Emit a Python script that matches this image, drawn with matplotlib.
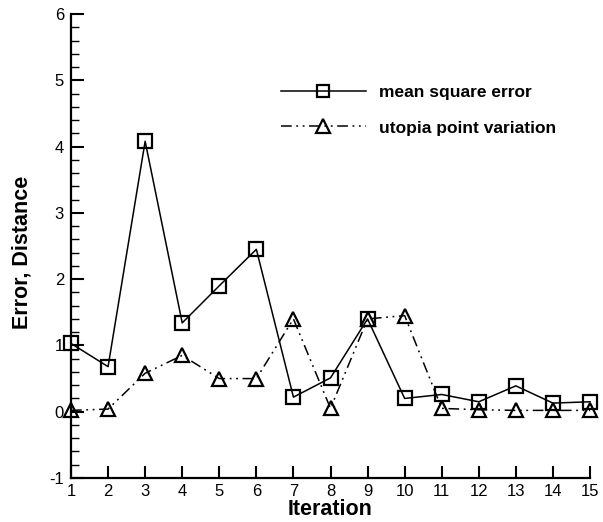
import matplotlib
matplotlib.use("Agg")
import matplotlib.pyplot as plt
from matplotlib.ticker import MultipleLocator

iterations = list(range(1, 16))
mse = [1.03, 0.68, 4.08, 1.34, 1.90, 2.45, 0.22, 0.51, 1.40, 0.20, 0.26, 0.15, 0.39, 0.13, 0.15]
utopia = [0.02, 0.04, 0.58, 0.85, 0.50, 0.50, 1.40, 0.05, 1.40, 1.45, 0.05, 0.03, 0.02, 0.02, 0.02]

plt.rcParams['font.family'] = ['Liberation Sans', 'DejaVu Sans']
plt.rcParams['axes.unicode_minus'] = False

fig = plt.figure(figsize=(6.03, 5.22), dpi=100)
ax = fig.add_axes([71/603, 1-478/522, (590-71)/603, (478-14)/522])

ax.plot(iterations, mse, color='black', lw=1.1, marker='s', ms=9.5,
        mfc='none', mec='black', mew=1.6, clip_on=False, label='mean square error')
ax.plot(iterations, utopia, color='black', lw=1.1, marker='^', ms=10.5,
        mfc='none', mec='black', mew=1.6, dashes=(7, 3, 1.2, 3, 1.2, 3),
        clip_on=False, label='utopia point variation')

ax.set_xlim(1, 15)
ax.set_ylim(-1, 6)
ax.xaxis.set_major_locator(MultipleLocator(1))
ax.yaxis.set_major_locator(MultipleLocator(1))
ax.yaxis.set_minor_locator(MultipleLocator(0.2))

for s in ['top', 'right']:
    ax.spines[s].set_visible(False)
for s in ['left', 'bottom']:
    ax.spines[s].set_linewidth(1.6)

ax.tick_params(axis='both', which='major', direction='in', length=9, width=1.5,
               labelsize=12)
ax.tick_params(axis='y', which='minor', direction='in', length=5.5, width=1.0)
ax.tick_params(axis='y', which='major', pad=5)
ax.tick_params(axis='x', which='major', pad=4)

ax.set_xlabel('Iteration', fontsize=15.5, fontweight='bold', labelpad=0)
ax.set_ylabel('Error, Distance', fontsize=15.5, fontweight='bold')
ax.yaxis.set_label_coords(-(71-22)/519, (478-252)/464)
ax.yaxis.label.set_horizontalalignment('center')
ax.yaxis.label.set_verticalalignment('center')

leg = ax.legend(loc='center left', bbox_to_anchor=((280-71)/519 - 0.012, (478-110)/464),
                frameon=False, prop={'weight': 'bold', 'size': 12.5},
                handlelength=4.9, handletextpad=0.75, labelspacing=1.2,
                markerscale=0.9, borderaxespad=0)

fig.savefig('out.png', dpi=100)
